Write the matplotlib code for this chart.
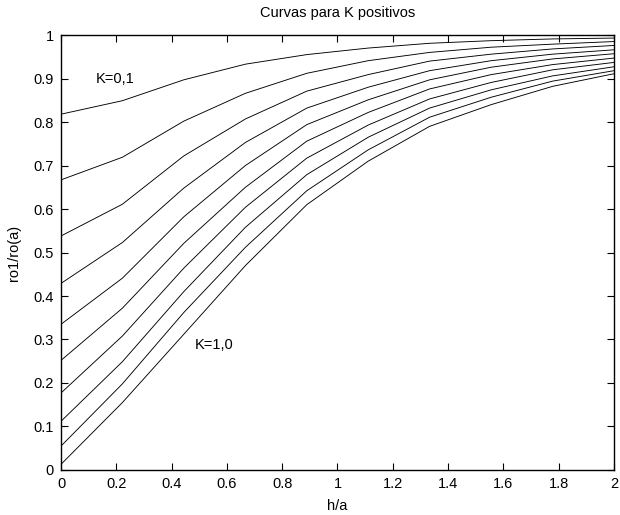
import matplotlib
matplotlib.use("Agg")
import matplotlib.pyplot as plt

plt.rcParams["font.family"] = ["Liberation Sans", "DejaVu Sans"]

# h/a sample points (10 points from 0 to 2)
H_A = [0.0, 0.222, 0.444, 0.667, 0.889, 1.111, 1.333, 1.556, 1.778, 2.0]

# ro1/ro(a), one list per K (0.1 ... 1.0)
K_01 = [0.818, 0.849, 0.897, 0.933, 0.955, 0.970, 0.981, 0.987, 0.991, 0.993]
K_02 = [0.667, 0.719, 0.802, 0.866, 0.912, 0.941, 0.960, 0.972, 0.979, 0.985]
K_03 = [0.538, 0.611, 0.722, 0.807, 0.871, 0.909, 0.940, 0.956, 0.968, 0.976]
K_04 = [0.429, 0.523, 0.648, 0.753, 0.832, 0.880, 0.918, 0.941, 0.956, 0.966]
K_05 = [0.335, 0.441, 0.582, 0.700, 0.794, 0.851, 0.897, 0.926, 0.945, 0.957]
K_06 = [0.252, 0.372, 0.521, 0.650, 0.756, 0.822, 0.876, 0.909, 0.932, 0.947]
K_07 = [0.177, 0.308, 0.464, 0.604, 0.717, 0.793, 0.853, 0.891, 0.920, 0.937]
K_08 = [0.112, 0.249, 0.410, 0.558, 0.679, 0.765, 0.832, 0.874, 0.906, 0.927]
K_09 = [0.055, 0.198, 0.362, 0.512, 0.642, 0.736, 0.811, 0.857, 0.894, 0.918]
K_10 = [0.013, 0.155, 0.312, 0.470, 0.610, 0.710, 0.790, 0.840, 0.882, 0.911]

CURVES = [K_01, K_02, K_03, K_04, K_05, K_06, K_07, K_08, K_09, K_10]

fig = plt.figure(figsize=(6.2, 5.15), dpi=100)
ax = fig.add_axes([0.0984, 0.0874, 0.8919, 0.8446])

for vals in CURVES:
    ax.plot(H_A, vals, color="black", linewidth=0.65)

ax.set_xlim(0, 2)
ax.set_ylim(0, 1)
ax.set_xticks([0, 0.2, 0.4, 0.6, 0.8, 1, 1.2, 1.4, 1.6, 1.8, 2])
ax.set_xticklabels(["0", "0.2", "0.4", "0.6", "0.8", "1", "1.2", "1.4", "1.6", "1.8", "2"])
ax.set_yticks([0, 0.1, 0.2, 0.3, 0.4, 0.5, 0.6, 0.7, 0.8, 0.9, 1])
ax.set_yticklabels(["0", "0.1", "0.2", "0.3", "0.4", "0.5", "0.6", "0.7", "0.8", "0.9", "1"])
ax.tick_params(direction="in", top=True, right=True, length=5, width=0.8,
               labelsize=10.5, pad=5)
for s in ax.spines.values():
    s.set_linewidth(1.0)

ax.set_title("Curvas para K positivos", fontsize=10.5, pad=13)
ax.set_xlabel("h/a", fontsize=10.5, labelpad=6)
ax.set_ylabel("ro1/ro(a)", fontsize=10.5, labelpad=9)

ax.text(0.127, 0.9, "K=0,1", fontsize=10.5, va="center", ha="left")
ax.text(0.485, 0.287, "K=1,0", fontsize=10.5, va="center", ha="left")

fig.savefig("out.png", dpi=100)
